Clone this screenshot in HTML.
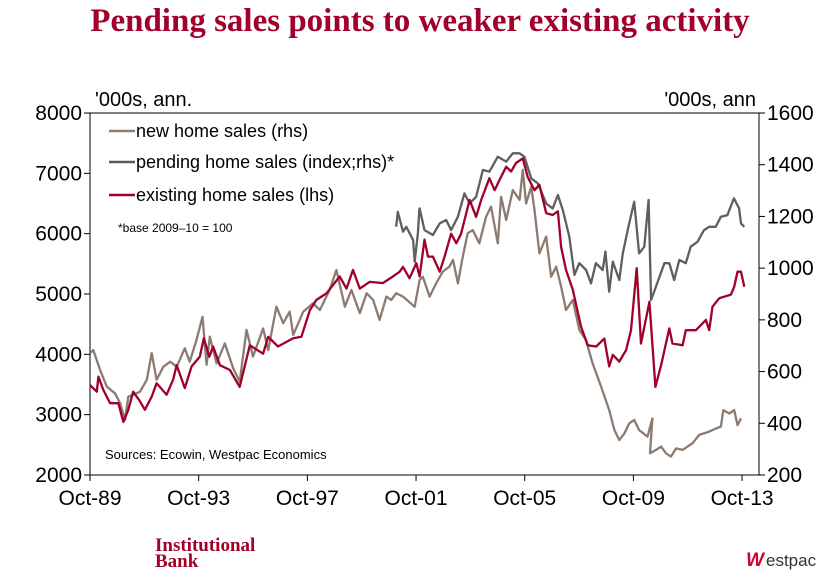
<!DOCTYPE html>
<html><head><meta charset="utf-8"><style>
body{margin:0;background:#fff;width:838px;height:579px;overflow:hidden;font-family:"Liberation Sans",sans-serif}
svg text{font-family:"Liberation Sans",sans-serif}
</style></head><body>
<svg id="c" width="838" height="579">
<text x="420" y="31" text-anchor="middle" style="font-family:'Liberation Serif',serif;font-weight:bold;font-size:33px" fill="#a0002a">Pending sales points to weaker existing activity</text>
<text x="95" y="106" font-size="20" fill="#000">'000s, ann.</text>
<text x="756" y="106" text-anchor="end" font-size="20" fill="#000">'000s, ann</text>
<rect x="90" y="113" width="669" height="362" fill="none" stroke="#000" stroke-width="1"/>
<g id="axes"></g>
<g id="series"></g>
<g>
<line x1="109" y1="131" x2="135" y2="131" stroke="#8c7b70" stroke-width="2.5"/>
<text x="136" y="137" font-size="18">new home sales (rhs)</text>
<line x1="109" y1="162" x2="135" y2="162" stroke="#5a5a5a" stroke-width="2.5"/>
<text x="136" y="168" font-size="18">pending home sales (index;rhs)*</text>
<line x1="109" y1="195" x2="135" y2="195" stroke="#a0002a" stroke-width="2.5"/>
<text x="136" y="201" font-size="18">existing home sales (lhs)</text>
<text x="118" y="232" font-size="12">*base 2009–10 = 100</text>
</g>
<text x="105" y="459" font-size="13">Sources: Ecowin, Westpac Economics</text>
<text x="155" y="551" style="font-family:'Liberation Serif',serif;font-weight:bold;font-size:19px" fill="#a0002a">Institutional</text>
<text x="155" y="567" style="font-family:'Liberation Serif',serif;font-weight:bold;font-size:19px" fill="#a0002a">Bank</text>
<g>
<text x="746" y="566" font-size="19" font-weight="bold" fill="#d5002b" font-style="italic">W</text>
<text x="766" y="566" font-size="17" fill="#333">estpac</text>
</g>
</svg>
<script>
const leftTicks=[2000,3000,4000,5000,6000,7000,8000];
const rightTicks=[200,400,600,800,1000,1200,1400,1600];
const xTickYears=[1989.75,1993.75,1997.75,2001.75,2005.75,2009.75,2013.75];
const xTickLabels=["Oct-89","Oct-93","Oct-97","Oct-01","Oct-05","Oct-09","Oct-13"];

const existDates=[1989.75,1990.0,1990.06,1990.24,1990.49,1990.79,1990.98,1991.16,1991.34,1991.59,1991.77,1992.02,1992.2,1992.57,1992.81,1992.94,1993.24,1993.49,1993.79,1993.94,1994.14,1994.28,1994.53,1994.9,1995.26,1995.63,1996.12,1996.31,1996.67,1997.23,1997.53,1997.84,1998.08,1998.45,1998.94,1999.19,1999.43,1999.68,2000.04,2000.53,2000.9,2001.15,2001.27,2001.51,2001.76,
2001.88,2002.06,2002.19,2002.37,2002.62,2002.8,2003.04,2003.23,2003.41,2003.72,2003.96,2004.15,2004.45,2004.64,2004.82,2005.07,2005.25,2005.43,2005.68,2005.86,2006.11,2006.29,2006.54,2006.78,2006.97,2007.09,2007.27,2007.52,2007.82,2008.07,2008.38,2008.68,2008.86,2008.99,2009.23,2009.48,2009.66,2009.87,2010.03,2010.34,2010.56,2010.77,2011.07,2011.19,2011.56,2011.68,2012.05,2012.42,2012.54,2012.66,2012.91,2013.34,2013.46,2013.58,2013.71,2013.83];
const existVals=[3490,3380,3630,3410,3190,3190,2880,3080,3380,3220,3080,3300,3520,3330,3580,3820,3440,3800,3960,4265,3960,4130,3820,3740,3460,4150,4010,4290,4130,4265,4290,4730,4900,5010,5290,5090,5400,5090,5200,5180,5290,5370,5450,5260,5510,
5290,5900,5620,5620,5370,5620,6000,5840,6000,6560,6280,6560,6920,6720,6890,7110,7030,7170,7250,6940,6720,6810,6340,6310,6370,5780,5400,5070,4460,4150,4130,4260,3800,3990,3880,4070,4400,5430,4180,4870,3460,3820,4430,4180,4150,4400,4400,4570,4400,4790,4930,4990,5120,5370,5370,5120];

const pendDates=[2001.02,2001.08,2001.27,2001.39,2001.64,2001.7,2001.82,2001.87,
2001.88,2002.06,2002.37,2002.62,2002.86,2003.04,2003.29,2003.53,2003.72,2003.96,2004.21,2004.45,2004.76,2005.07,2005.31,2005.56,2005.74,2005.99,2006.23,2006.54,2006.78,2006.97,2007.15,2007.39,2007.58,2007.76,2008.01,2008.19,2008.37,2008.62,2008.72,2008.86,2008.99,2009.23,2009.36,2009.54,2009.78,2009.96,2010.15,2010.31,2010.4,2010.58,2010.89,2011.07,2011.25,2011.44,2011.68,2011.86,2012.11,2012.35,2012.54,2012.78,2012.97,2013.21,2013.45,2013.64,2013.71,2013.83];
const pendVals=[1160,1218,1141,1160,1109,1025,1135,1225,
1231,1147,1128,1173,1186,1147,1199,1289,1250,1276,1380,1373,1431,1412,1444,1444,1431,1347,1328,1250,1231,1283,1225,1122,974,1019,993,941,1019,993,1064,909,1025,954,1057,1147,1257,1057,1083,1264,877,929,1019,1019,954,1032,1019,1083,1102,1147,1160,1160,1199,1205,1270,1231,1173,1160];

const newDates=[1989.75,1989.87,1990.12,1990.37,1990.67,1990.86,1991.04,1991.16,1991.34,1991.59,1991.84,1992.02,1992.2,1992.45,1992.7,1992.94,1993.24,1993.42,1993.67,1993.89,1994.04,1994.16,1994.41,1994.71,1995.02,1995.26,1995.51,1995.75,1996.12,1996.31,1996.61,1996.86,1997.1,1997.23,1997.6,1997.96,1998.21,1998.57,1998.82,1999.13,1999.37,1999.68,1999.93,2000.17,2000.41,2000.66,2000.84,2001.02,2001.27,2001.7,2001.88,
2002.0,2002.25,2002.49,2002.74,2002.98,2003.11,2003.29,2003.47,2003.65,2003.84,2004.08,2004.33,2004.51,2004.76,2004.88,2005.07,2005.31,2005.56,2005.68,2005.8,2005.99,2006.11,2006.29,2006.54,2006.72,2006.91,2007.09,2007.27,2007.52,2007.76,2008.0,2008.25,2008.56,2008.86,2009.05,2009.23,2009.42,2009.6,2009.78,2009.96,2010.27,2010.45,2010.36,2010.58,2010.77,2010.95,2011.13,2011.32,2011.56,2011.93,2012.17,2012.54,2012.79,2012.97,2013.06,2013.28,2013.46,2013.58,2013.71];
const newVals=[671,683,606,542,516,477,413,503,510,522,568,671,568,619,638,619,690,638,722,812,626,735,632,709,613,561,761,658,767,683,851,787,832,742,832,864,838,916,993,851,916,826,903,877,800,890,877,903,890,851,954,
967,890,941,987,1006,1032,941,1045,1135,1147,1096,1199,1238,1096,1276,1186,1302,1264,1380,1250,1315,1225,1057,1122,967,1006,929,838,877,761,722,632,542,451,374,335,361,400,413,374,348,419,284,297,310,284,271,303,297,323,355,368,380,387,451,438,451,393,419];
</script>
<script>
(function(){
const NS="http://www.w3.org/2000/svg";
const X0=90,X1=759,Y0=113,Y1=475,T0=1989.75,PX=27.17;
const xs=t=>X0+(t-T0)*PX;
const yL=v=>Y1-(v-2000)/6000*(Y1-Y0);
const yR=v=>Y1-(v-200)/1400*(Y1-Y0);
const axes=document.getElementById('axes');
function mk(tag,attrs,parent){const e=document.createElementNS(NS,tag);for(const k in attrs)e.setAttribute(k,attrs[k]);parent.appendChild(e);return e;}
leftTicks.forEach(v=>{
  const y=yL(v);
  const l=mk('line',{x1:X0-6,x2:X0,y1:y,y2:y,stroke:'#000'},axes);
  
  
  const t=mk('text',{x:X0-8,y:y+7,'text-anchor':'end','font-size':'21'},axes);
  t.textContent=v;
  
  
});
rightTicks.forEach(v=>{
  const y=yR(v);
  const l=mk('line',{x1:X1,x2:X1+6,y1:y,y2:y,stroke:'#000'},axes);
  
  
  const t=mk('text',{x:X1+8,y:y+7,'font-size':'21'},axes);
  t.textContent=v;
  
  
});
xTickYears.forEach((yr,i)=>{
  const x=xs(yr);
  const l=mk('line',{x1:x,x2:x,y1:Y1,y2:Y1+6,stroke:'#000'},axes);
  
  
  const t=mk('text',{x:x,y:Y1+30,'text-anchor':'middle','font-size':'21'},axes);
  t.textContent=xTickLabels[i];
  
  
});
const g=document.getElementById('series');
function line(d,v,sc,col,name){
  const pts=d.map((t,i)=>xs(t).toFixed(1)+','+sc(v[i]).toFixed(1)).join(' ');
  const p=mk('polyline',{points:pts,fill:'none',stroke:col,'stroke-width':'2.3','stroke-linejoin':'round'},g);
  
  
}
line(newDates,newVals,yR,'#8c7b70','new-home-sales-line');
line(pendDates,pendVals,yR,'#5f5f5f','pending-home-sales-line');
line(existDates,existVals,yL,'#a0002a','existing-home-sales-line');
})();
</script>
</body></html>
